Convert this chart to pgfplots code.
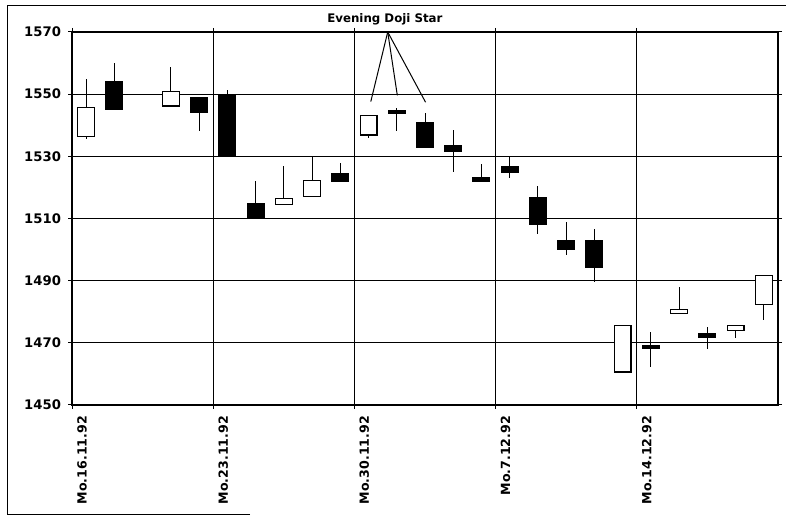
\documentclass[border=0pt]{standalone}
\usepackage{fontspec}
\setmainfont{DejaVu Sans}
\usepackage{pgfplots}
\pgfplotsset{compat=1.18}
\usepackage{pgfplotstable}

% trading day index (Mon of 16.11.92 = 0, Wed 18.11 no session), open high low close
\pgfplotstableread{
i  o      h      l      c
0  1536.2 1555.0 1535.6 1546.0
3  1546.0 1558.7 1546.0 1551.0
7  1514.2 1527.0 1514.2 1516.6
8  1517.0 1530.0 1517.0 1522.5
10 1536.7 1543.4 1536.0 1543.4
19 1460.4 1475.7 1460.4 1475.7
21 1479.3 1488.0 1479.3 1481.0
23 1473.9 1475.8 1471.7 1475.8
24 1482.2 1491.8 1477.3 1491.8
}\whitecandles

\pgfplotstableread{
i  o      h      l      c
1  1554.3 1560.0 1544.9 1544.9
4  1549.0 1549.0 1538.0 1543.8
5  1550.0 1551.2 1530.0 1530.0
6  1515.0 1522.0 1510.0 1510.0
9  1524.6 1528.0 1521.6 1521.6
11 1544.8 1545.5 1538.0 1543.6
12 1541.0 1544.0 1532.6 1532.6
13 1533.5 1538.5 1525.0 1531.4
14 1523.4 1527.4 1521.7 1521.7
15 1527.0 1530.0 1523.0 1524.7
16 1517.0 1520.5 1505.0 1508.0
17 1503.2 1509.0 1498.4 1500.0
18 1503.2 1506.7 1489.5 1494.1
20 1469.4 1473.5 1462.2 1468.0
22 1473.3 1475.0 1467.9 1471.7
}\blackcandles

\pgfplotsset{
  stick/.style={draw=none, mark=none, forget plot,
    error bars/.cd, y dir=both, y explicit, error mark=none,
    error bar style={draw=#1, line width=0.5pt}},
  body/.style 2 args={draw=none, mark=none, forget plot,
    error bars/.cd, y dir=both, y explicit, error mark=none,
    error bar style={draw=#1, line width=#2}},
}

\begin{document}
\begin{tikzpicture}
\useasboundingbox (0,0) rectangle (393pt,258.5pt);
% scanned page frame
\draw[line width=0.5pt] (125pt,1pt) -- (3.5pt,1pt) -- (3.5pt,255.5pt) -- (400pt,255.5pt);
\begin{axis}[
    at={(36pt,56pt)}, anchor=south west,
    scale only axis, width=353pt, height=186.5pt,
    xmin=-0.5, xmax=24.5, ymin=1450, ymax=1570,
    xtick={-0.5,4.5,9.5,14.5,19.5},
    xticklabels={Mo.16.11.92,Mo.23.11.92,Mo.30.11.92,Mo.7.12.92,Mo.14.12.92},
    ytick={1450,1470,...,1570},
    grid=major, grid style={black, line width=0.55pt},
    axis line style={line width=0.6pt},
    tick style={black, line width=0.5pt}, tick align=center, major tick length=4pt,
    tick label style={font=\bfseries\fontsize{6.3}{7.5}\selectfont},
    y tick label style={font=\bfseries\fontsize{6.6}{7.5}\selectfont},
    x tick label style={xshift=5pt, rotate=90, anchor=east},
    /pgf/number format/assume math mode=true,
    /pgf/number format/set thousands separator={},
    clip=false]

    % wicks
    \addplot[stick=black] table[x=i, y expr={(\thisrow{h}+\thisrow{l})/2}, y error expr={(\thisrow{h}-\thisrow{l})/2}] {\whitecandles};
    \addplot[stick=black] table[x=i, y expr={(\thisrow{h}+\thisrow{l})/2}, y error expr={(\thisrow{h}-\thisrow{l})/2}] {\blackcandles};

    % bodies
    \addplot[body={black}{9pt}] table[x=i, y expr={(\thisrow{o}+\thisrow{c})/2}, y error expr={abs(\thisrow{c}-\thisrow{o})/2}] {\blackcandles};
    \addplot[body={black}{9pt}] table[x=i, y expr={(\thisrow{o}+\thisrow{c})/2}, y error expr={abs(\thisrow{c}-\thisrow{o})/2}] {\whitecandles};
    \addplot[body={white}{7.8pt}] table[x=i, y expr={(\thisrow{o}+\thisrow{c})/2}, y error expr={abs(\thisrow{c}-\thisrow{o})/2-0.38}] {\whitecandles};

    % annotation
    \draw[line width=0.5pt] (axis cs:10.68,1570) -- (axis cs:10.08,1547.6);
    \draw[line width=0.5pt] (axis cs:10.68,1570) -- (axis cs:11.02,1549.6);
    \draw[line width=0.5pt] (axis cs:10.68,1570) -- (axis cs:12.02,1547.4);
    \node[anchor=base, font=\bfseries\fontsize{5.9}{7}\selectfont, yshift=4.5pt]
        at (axis cs:10.58,1570) {Evening Doji Star};
\end{axis}
\end{tikzpicture}
\end{document}
